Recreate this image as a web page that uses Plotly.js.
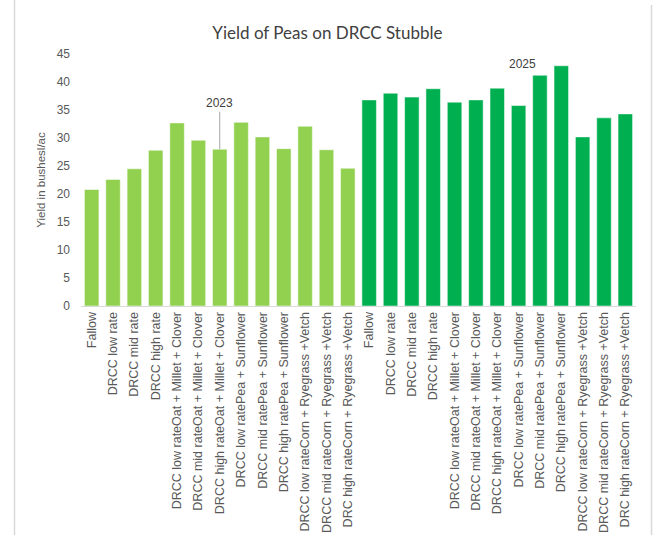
<!DOCTYPE html>
<html>
<head>
<meta charset="utf-8">
<script src="https://cdn.plot.ly/plotly-3.0.1.min.js"></script>
<style>
  html, body { margin: 0; padding: 0; background: #ffffff; }
  #chart { width: 653px; height: 535px; }
</style>
</head>
<body>
<div id="chart"></div>
<script>
// Treatments, in the order they are plotted for each season
const treatments = [
  "Fallow",
  "DRCC low rate",
  "DRCC mid rate",
  "DRCC high rate",
  "DRCC low rateOat + Millet + Clover",
  "DRCC mid rateOat + Millet + Clover",
  "DRCC high rateOat + Millet + Clover",
  "DRCC low ratePea + Sunflower",
  "DRCC mid ratePea + Sunflower",
  "DRCC high ratePea + Sunflower",
  "DRCC low rateCorn + Ryegrass +Vetch",
  "DRCC mid rateCorn + Ryegrass +Vetch",
  "DRC high rateCorn + Ryegrass +Vetch"
];

// Pea yield (bushels/ac) by season
const yield2023 = [20.8, 22.6, 24.5, 27.8, 32.7, 29.6, 28.0, 32.8, 30.2, 28.1, 32.1, 27.9, 24.6];
const yield2025 = [36.8, 38.0, 37.3, 38.8, 36.4, 36.8, 38.9, 35.8, 41.2, 42.9, 30.2, 33.6, 34.3];

const seasonLabels = ["2023", "2025"];
const yTicks = [0, 5, 10, 15, 20, 25, 30, 35, 40, 45];

const n = treatments.length;
const x2023 = treatments.map((_, i) => i);
const x2025 = treatments.map((_, i) => i + n);
const tickPositions = x2023.concat(x2025);
const tickLabels = treatments.concat(treatments);

const textGray = "#595959";
const sans = "'Liberation Sans', Arial, sans-serif";

const traces = [
  {
    type: "bar",
    name: seasonLabels[0],
    x: x2023,
    y: yield2023,
    width: 0.68,
    marker: { color: "#92D050", line: { color: "rgba(255,255,255,0.5)", width: 1 } },
    hoverinfo: "y"
  },
  {
    type: "bar",
    name: seasonLabels[1],
    x: x2025,
    y: yield2025,
    width: 0.68,
    marker: { color: "#00B050", line: { color: "rgba(255,255,255,0.5)", width: 1 } },
    hoverinfo: "y"
  }
];

const layout = {
  width: 653,
  height: 535,
  paper_bgcolor: "#ffffff",
  plot_bgcolor: "#ffffff",
  showlegend: false,
  barmode: "overlay",
  margin: { l: 81, r: 17, t: 54, b: 229, pad: 0 },
  font: { family: sans, color: textGray, size: 12 },
  title: {
    text: "Yield of Peas on DRCC Stubble",
    font: { family: "Lato, 'Open Sans', sans-serif", size: 17, color: "#404040" },
    x: 0.444,
    xanchor: "center",
    xref: "paper",
    y: 1 - 33 / 535,
    yanchor: "middle",
    yref: "container"
  },
  xaxis: {
    range: [-0.5, 2 * n - 0.5],
    tickmode: "array",
    tickvals: tickPositions,
    ticktext: tickLabels,
    tickangle: -90,
    tickfont: { family: sans, size: 12.5, color: textGray },
    showgrid: false,
    zeroline: false,
    showline: true,
    linecolor: "#d9d9d9",
    linewidth: 1,
    ticks: "",
    automargin: false,
    fixedrange: true
  },
  yaxis: {
    range: [0, 45],
    tickmode: "array",
    tickvals: yTicks,
    ticktext: yTicks.map(String),
    tickfont: { family: sans, size: 12, color: textGray },
    showgrid: false,
    zeroline: false,
    showline: false,
    ticks: "",
    ticklabelstandoff: 10,
    automargin: false,
    fixedrange: true,
    title: {
      text: "Yield in bushesl/ac",
      font: { family: sans, size: 11.5, color: textGray },
      standoff: 8
    }
  },
  annotations: [
    {
      x: 6,
      y: yield2023[6],
      xref: "x",
      yref: "y",
      text: seasonLabels[0],
      showarrow: true,
      arrowhead: 0,
      arrowwidth: 1,
      arrowcolor: "#a6a6a6",
      ax: 0,
      ay: -46,
      font: { family: sans, size: 12, color: "#404040" }
    },
    {
      x: 20.2,
      y: 43.2,
      xref: "x",
      yref: "y",
      text: seasonLabels[1],
      showarrow: false,
      font: { family: sans, size: 12, color: "#404040" }
    }
  ],
  // light frame around the chart area
  shapes: [
    {
      type: "line", xref: "paper", yref: "paper",
      x0: (14.5 - 81) / 555, x1: (14.5 - 81) / 555,
      y0: -229 / 252, y1: 54 / 252 + 1,
      line: { color: "#d9d9d9", width: 1.5 }
    },
    {
      type: "line", xref: "paper", yref: "paper",
      x0: (651.5 - 81) / 555, x1: (651.5 - 81) / 555,
      y0: -229 / 252, y1: 49 / 252 + 1,
      line: { color: "#d9d9d9", width: 1.5 }
    }
  ]
};

Plotly.newPlot("chart", traces, layout, { displayModeBar: false, staticPlot: true });
</script>
</body>
</html>
